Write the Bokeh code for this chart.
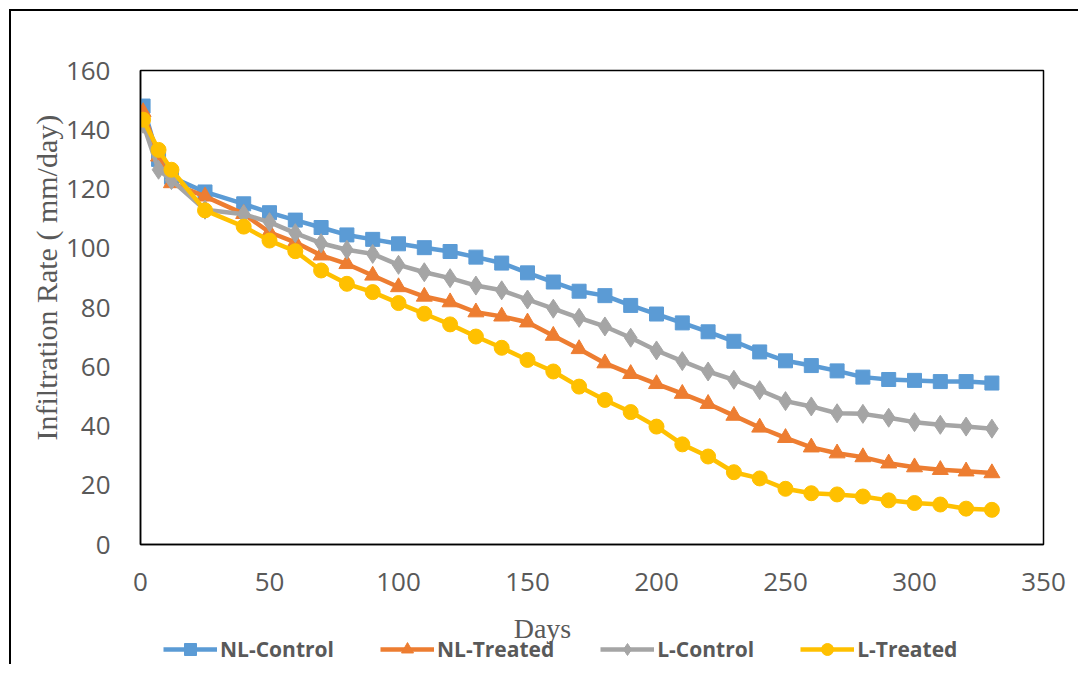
import math
from bokeh.plotting import figure
from bokeh.layouts import column
from bokeh.models import Range1d, FixedTicker, Legend, LegendItem, Title, Label
from bokeh.embed import file_html
from bokeh.resources import INLINE

days = [1, 7, 12, 25, 40, 50, 60, 70, 80, 90, 100, 110, 120, 130, 140, 150, 160,
        170, 180, 190, 200, 210, 220, 230, 240, 250, 260, 270, 280, 290, 300, 310, 320, 330]

nl_control = [148, 130, 124, 119, 115, 112, 109.5, 107, 104.5, 103, 101.5, 100.2, 98.9, 97,
              95, 91.7, 88.6, 85.5, 84, 80.7, 77.8, 74.8, 71.8, 68.6, 65, 62, 60.4, 58.6,
              56.5, 55.7, 55.4, 55, 55, 54.5]
nl_treated = [146, 131, 122, 117.5, 111.6, 105.4, 102, 97.6, 94.7, 90.8, 86.9, 83.7, 81.8,
              78.4, 77, 75, 70.5, 66, 61.2, 57.6, 54.2, 50.9, 47.5, 43.5, 39.5, 36, 32.8,
              30.8, 29.5, 27.4, 26.1, 25.2, 24.7, 24.1]
l_control = [142, 126.5, 123, 113, 111.5, 108.8, 105.1, 101.7, 99.5, 98.1, 94.4, 91.9, 89.9,
             87.4, 85.8, 82.7, 79.6, 76.5, 73.6, 69.8, 65.5, 61.9, 58.4, 55.6, 52.1, 48.4,
             46.6, 44.3, 44.1, 42.8, 41.3, 40.4, 39.8, 39.1]
l_treated = [143.4, 133.2, 126.5, 112.8, 107.3, 102.6, 99, 92.5, 88, 85.2, 81.5, 77.9, 74.3,
             70.2, 66.4, 62.3, 58.4, 53.3, 48.8, 44.7, 39.8, 33.8, 29.7, 24.4, 22.3, 18.8,
             17.3, 16.9, 16.2, 14.9, 14, 13.5, 12.1, 11.7]

series_names = ["NL-Control", "NL-Treated", "L-Control", "L-Treated"]
series_values = [nl_control, nl_treated, l_control, l_treated]
colors = ["#5B9BD5", "#ED7D31", "#A5A5A5", "#FFC000"]
markers = ["square", "triangle", "diamond", "circle"]
marker_sizes = [14, 16, 19, 15]

x_ticks = [0, 50, 100, 150, 200, 250, 300, 350]
y_ticks = [0, 20, 40, 60, 80, 100, 120, 140, 160]

x_title = "Days"
y_title = "Infiltration Rate ( mm/day)"

# ---- main chart ----
p = figure(width=1078, height=600, output_backend="svg", toolbar_location=None,
           x_range=Range1d(0, 350), y_range=Range1d(0, 160),
           min_border_left=140, min_border_top=70, min_border_right=35, min_border_bottom=56)
p.border_fill_alpha = 0
p.background_fill_color = "#ffffff"
p.xgrid.visible = False
p.ygrid.visible = False
p.outline_line_color = "#000000"
p.outline_line_width = 1.5
p.outline_line_alpha = 1.0

for ax, ticks in ((p.xaxis[0], x_ticks), (p.yaxis[0], y_ticks)):
    ax.ticker = FixedTicker(ticks=ticks)
    ax.axis_line_color = "#000000"
    ax.axis_line_width = 1.5
    ax.major_tick_line_color = None
    ax.minor_tick_line_color = None
    ax.major_tick_out = 0
    ax.major_tick_in = 0
    ax.minor_tick_out = 0
    ax.major_label_text_font = "Open Sans"
    ax.major_label_text_font_size = "26px"
    ax.major_label_text_color = "#595959"
p.xaxis[0].major_label_standoff = 28
p.yaxis[0].major_label_standoff = 30

for name, vals, col, mk, ms in zip(series_names, series_values, colors, markers, marker_sizes):
    p.line(days, vals, line_color=col, line_width=4.5)
    p.scatter(days, vals, marker=mk, size=ms, fill_color=col, line_color=col)

p.add_layout(Title(text=y_title, align="left", offset=104, standoff=0,
                   text_font="Liberation Serif", text_font_size="30px",
                   text_font_style="normal", text_color="#595959"), "left")

# ---- strip below: x title and legend (same x scale as the chart) ----
lg = figure(width=1078, height=64, output_backend="svg", toolbar_location=None,
            x_range=Range1d(0, 350), y_range=Range1d(-72, -8),
            min_border_left=140, min_border_right=35, min_border_top=0, min_border_bottom=0)
lg.axis.visible = False
lg.grid.visible = False
lg.outline_line_color = None
lg.border_fill_alpha = 0
lg.background_fill_alpha = 0

items = []
for name, vals, col, mk, ms in zip(series_names, series_values, colors, markers, marker_sizes):
    # same series, lying outside this strip's visible y range; used for legend swatches
    ln = lg.line(days, vals, line_color=col, line_width=4.5)
    sc = lg.scatter(days, vals, marker=mk, size=ms, fill_color=col, line_color=col)
    items.append(LegendItem(label=name, renderers=[ln, sc]))

legend = Legend(items=items, orientation="horizontal", location=(23, 0),
                padding=0, margin=0, spacing=46, glyph_width=54, glyph_height=30,
                label_height=30, label_standoff=3,
                label_text_font="Open Sans", label_text_font_size="21px",
                label_text_font_style="bold", label_text_color="#595959",
                border_line_color=None, background_fill_alpha=0)
lg.add_layout(legend, "center")

lg.add_layout(Label(x=155.8, y=-36, text=x_title, text_font="Liberation Serif",
                    text_font_size="28px", text_color="#595959",
                    text_align="center", text_baseline="middle"))

layout = column(p, lg, spacing=0)
layout.styles = {
    "background": "linear-gradient(#000,#000) 9px 9px / 2px 100% no-repeat, "
                  "linear-gradient(#000,#000) 9px 9px / 100% 2px no-repeat, #ffffff"
}

open("out.html", "w").write(file_html(layout, INLINE))
